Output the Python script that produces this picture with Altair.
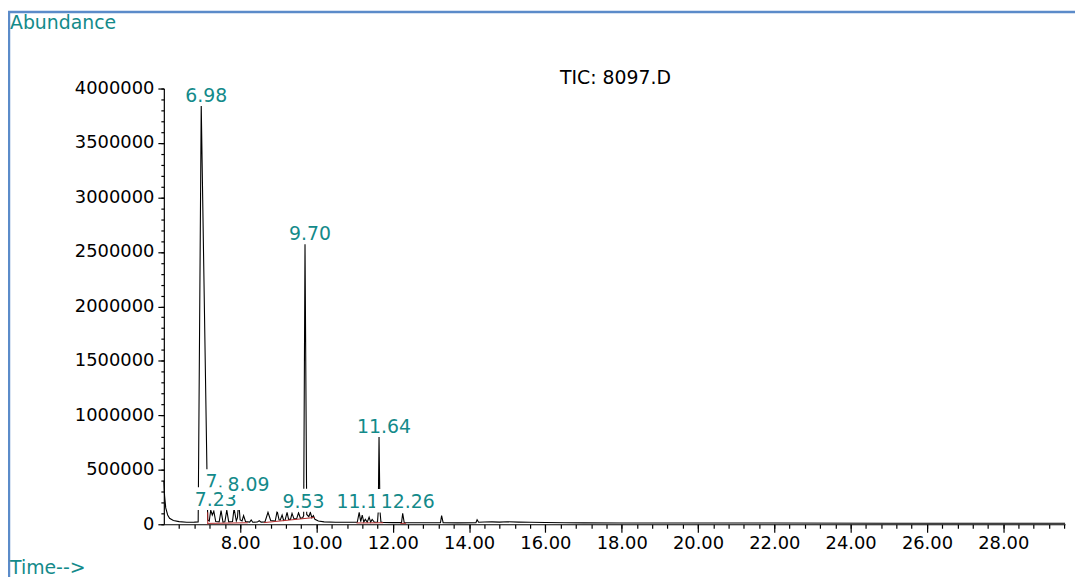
import altair as alt
import pandas as pd

# ---- TIC trace (retention time in min, abundance) ----
times = [6.00, 6.02, 6.05, 6.10, 6.15, 6.25, 6.40, 6.60, 6.80, 6.90,
         6.98, 7.15, 7.19, 7.23, 7.27, 7.31, 7.36, 7.45, 7.50, 7.55,
         7.60, 7.65, 7.70, 7.80, 7.84, 7.90, 7.93, 7.96, 8.00, 8.05,
         8.09, 8.14, 8.25, 8.29, 8.33, 8.45, 8.50, 8.55, 8.65, 8.73,
         8.80, 8.92, 8.97, 9.02, 9.05, 9.10, 9.14, 9.18, 9.23, 9.27,
         9.32, 9.36, 9.41, 9.48, 9.53, 9.58, 9.64, 9.665, 9.70, 9.745,
         9.80, 9.84, 9.88, 9.92, 9.96, 10.05, 10.20, 10.50, 10.80, 11.07,
         11.12, 11.16, 11.20, 11.24, 11.28, 11.33, 11.38, 11.42, 11.46, 11.52,
         11.60, 11.62, 11.64, 11.665, 11.69, 11.75, 12.00, 12.23, 12.26, 12.30,
         12.70, 13.25, 13.28, 13.32, 13.70, 14.18, 14.21, 14.25, 14.40, 14.60,
         14.80, 15.00, 15.30, 15.60, 16.00, 16.50, 17.00, 18.00, 20.00, 22.00,
         25.00, 29.62]
abundance = [400000, 260000, 150000, 85000, 55000, 35000, 24000, 19000, 20000, 22000,
             3850000, 40000, 30000, 130000, 85000, 120000, 25000, 22000, 125000, 20000,
             22000, 130000, 22000, 25000, 145000, 30000, 60000, 210000, 40000, 30000,
             80000, 25000, 20000, 40000, 18000, 20000, 32000, 20000, 22000, 110000,
             35000, 30000, 120000, 40000, 38000, 85000, 35000, 40000, 110000, 45000,
             45000, 100000, 50000, 50000, 105000, 55000, 60000, 80000, 2580000, 90000,
             70000, 110000, 60000, 80000, 45000, 30000, 22000, 19000, 18000, 18000,
             110000, 25000, 85000, 20000, 45000, 20000, 65000, 20000, 45000, 18000,
             20000, 120000, 808000, 120000, 20000, 16000, 15000, 15000, 100000, 15000,
             14000, 14000, 80000, 14000, 13000, 14000, 42000, 18000, 21000, 22000,
             20000, 23000, 20000, 19000, 16000, 14000, 13000, 12000, 11000, 11000,
             10000, 10000]

# ---- integration baselines (red) ----
base_seg = ["a", "a", "b", "b", "c", "c", "d", "d", "e", "e"]
base_time = [7.15, 7.15, 7.15, 8.20, 8.62, 9.95, 11.05, 11.75, 12.20, 12.35]
base_abund = [0, 110000, 8000, 14000, 15000, 62000, 12000, 14000, 8000, 9000]

# ---- peak labels (drawing order matters: later boxes hide earlier text) ----
label_text = ["6.98", "9.70", "11.64", "7.51", "7.23", "8.09", "9.53", "11.10", "12.26"]
label_time = [6.98, 9.70, 11.64, 7.51, 7.23, 8.09, 9.53, 11.10, 12.26]
label_level = [3930000, 2662000, 892000, 387000, 221000, 360000, 207000, 205000, 200000]

# ---- axes ----
x_major = [8.0, 10.0, 12.0, 14.0, 16.0, 18.0, 20.0, 22.0, 24.0, 26.0, 28.0]
x_minor = [round(6.4 + 0.4 * i, 1) for i in range(59)]
y_major = [0, 500000, 1000000, 1500000, 2000000, 2500000, 3000000, 3500000, 4000000]
y_minor = [i * 100000 for i in range(41)]

title_y = "Abundance"
title_x = "Time-->"
title_tic = "TIC: 8097.D"

W, H = 908, 439
X0, X1 = 6.0, 29.62
Y0, Y1 = 0, 4000000
FONT = "DejaVu Sans"
TEAL = "#138a8a"

xscale = alt.Scale(domain=[X0, X1], nice=False, zero=False)
yscale = alt.Scale(domain=[Y0, Y1], nice=False, zero=False)

x_axis = alt.Axis(values=x_major, title=None, grid=False, orient="bottom",
                  domainColor="black", domainWidth=1.2, tickColor="black",
                  tickWidth=1.2, tickSize=8, format=".2f",
                  labelFont=FONT, labelFontSize=18, labelColor="black",
                  labelPadding=2, labelFlush=False, labelOverlap=False)
y_axis = alt.Axis(values=y_major, title=None, grid=False, orient="left",
                  domainColor="black", domainWidth=1.2, tickColor="black",
                  tickWidth=1.2, tickSize=6, format="d",
                  labelFont=FONT, labelFontSize=18, labelColor="black",
                  labelPadding=4, labelOverlap=False)
x_axis_minor = alt.Axis(values=x_minor, title=None, grid=False, orient="bottom",
                        domain=False, labels=False, tickColor="black",
                        tickWidth=1.2, tickSize=4)
y_axis_minor = alt.Axis(values=y_minor, title=None, grid=False, orient="left",
                        domain=False, labels=False, tickColor="black",
                        tickWidth=1.2, tickSize=3)

trace = pd.DataFrame({"time": times, "abundance": abundance})
line = alt.Chart(trace).mark_line(color="black", strokeWidth=1.1).encode(
    x=alt.X("time:Q", scale=xscale, axis=x_axis),
    y=alt.Y("abundance:Q", scale=yscale, axis=y_axis),
)
minor = alt.Chart(trace).mark_point(opacity=0).encode(
    x=alt.X("time:Q", scale=xscale, axis=x_axis_minor),
    y=alt.Y("abundance:Q", scale=yscale, axis=y_axis_minor),
)

basedf = pd.DataFrame({"seg": base_seg, "time": base_time, "abundance": base_abund})
baseline = alt.Chart(basedf).mark_line(color="#b02a2a", strokeWidth=1).encode(
    x=alt.X("time:Q", scale=xscale, axis=None),
    y=alt.Y("abundance:Q", scale=yscale, axis=None),
    detail="seg:N",
)

ppm = W / (X1 - X0)        # px per minute
ppv = H / (Y1 - Y0)        # px per abundance unit
DX = 5

label_layers = []
for s, t, v in zip(label_text, label_time, label_level):
    w = 11.5 * len(s) + 8
    df = pd.DataFrame({
        "t": [t], "v": [v], "txt": [s],
        "bx1": [t + (DX - w / 2) / ppm], "bx2": [t + (DX + w / 2) / ppm],
        "by1": [v + 13 / ppv], "by2": [v - 10 / ppv],
    })
    box = alt.Chart(df).mark_rect(color="white").encode(
        x=alt.X("bx1:Q", scale=xscale, axis=None), x2="bx2:Q",
        y=alt.Y("by1:Q", scale=yscale, axis=None), y2="by2:Q",
    )
    txt = alt.Chart(df).mark_text(font=FONT, fontSize=19, color=TEAL, dx=DX,
                                  align="center", baseline="middle").encode(
        x=alt.X("t:Q", scale=xscale, axis=None),
        y=alt.Y("v:Q", scale=yscale, axis=None),
        text="txt:N",
    )
    label_layers += [box, txt]

one = pd.DataFrame({"k": [0]})
frame = alt.Chart(one).mark_rect(fillOpacity=0, stroke="#5b8bc9", strokeWidth=2.5).encode(
    x=alt.value(-156), x2=alt.value(W + 80), y=alt.value(-77), y2=alt.value(H + 120)
)
t_abund = alt.Chart(one).mark_text(text=title_y, font=FONT, fontSize=19, color=TEAL,
                                   align="left", baseline="alphabetic").encode(
    x=alt.value(-155), y=alt.value(-60))
t_time = alt.Chart(one).mark_text(text=title_x, font=FONT, fontSize=19, color=TEAL,
                                  align="left", baseline="alphabetic").encode(
    x=alt.value(-155), y=alt.value(489))
t_tic = alt.Chart(one).mark_text(text=title_tic, font=FONT, fontSize=19, color="black",
                                 align="center", baseline="alphabetic").encode(
    x=alt.value(455), y=alt.value(-5))

chart = alt.layer(frame, line, minor, baseline, *label_layers, t_abund, t_time, t_tic).resolve_axis(
    x="independent", y="independent"
).properties(
    width=W, height=H,
    autosize=alt.AutoSizeParams(type="none"),
    padding={"left": 157, "top": 79, "right": 10, "bottom": 51},
).configure_view(stroke="transparent")

chart.save("out.html", embed_options={"renderer": "svg", "actions": False})
